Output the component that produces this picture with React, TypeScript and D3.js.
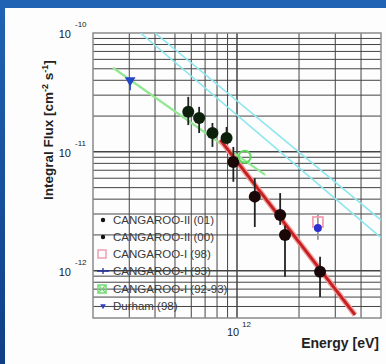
import React from "react";
import * as d3 from "d3";

// black points (CANGAROO-II)
const blackE = [5.8e11, 6.55e11, 7.6e11, 8.9e11, 9.6e11, 1.22e12, 1.62e12, 1.71e12, 2.53e12];
const blackF = [2.17e-11, 1.93e-11, 1.44e-11, 1.31e-11, 8.2e-12, 4.2e-12, 2.94e-12, 2.0e-12, 9.8e-13];
const blackLo = [1.68e-11, 1.44e-11, 1.1e-11, 1.19e-11, 5.6e-12, 2.33e-12, 2.43e-12, 8.9e-13, 6.0e-13];
const blackHi = [2.9e-11, 2.39e-11, 1.75e-11, 1.62e-11, 1.1e-11, 6.0e-12, 4.5e-12, 2.4e-12, 1.31e-12];

const pinkE = [2.47e12];
const pinkF = [2.57e-12];
const pinkLo = [1.82e-12];
const pinkHi = [3.06e-12];

const blueE = [2.47e12];
const blueF = [2.29e-12];

const greenE = [1.09e12];
const greenF = [9.1e-12];

const durhamE = [3.03e11];
const durhamF = [4.0e-11];

// power-law lines, endpoints [E, F]
const redLine = [[8.3e11, 1.26e-11], [3.74e12, 4.25e-13]];
const greenLine = [[2.5e11, 5.1e-11], [1.37e12, 6.4e-12]];
const cyanLineA = [[3.4e11, 1e-10], [5e12, 1.9e-12]];
const cyanLineB = [[4.0e11, 1e-10], [5e12, 2.67e-12]];

const legendLabels = [
  "CANGAROO-II (01)",
  "CANGAROO-II (00)",
  "CANGAROO-I (98)",
  "CANGAROO-I (93)",
  "CANGAROO-I (92-93)",
  "Durham (98)",
];

const W = 386, H = 364;
const left = 93, right = 381, top = 33, bottom = 318;

export default function App() {
  const x = d3.scaleLog().domain([2e11, 5e12]).range([left, right]);
  const y = d3.scaleLog().domain([4e-13, 1e-10]).range([bottom, top]);

  const xGrid: number[] = [];
  for (let p = 11; p <= 12; p++) for (let m = 1; m <= 9; m++) {
    const v = m * Math.pow(10, p);
    if (v > 2e11 && v < 5e12) xGrid.push(v);
  }
  const yGrid: number[] = [];
  for (let p = -13; p <= -11; p++) for (let m = 1; m <= 9; m++) {
    const v = m * Math.pow(10, p);
    if (v > 4e-13 && v < 1e-10) yGrid.push(v);
  }

  const line = d3.line<number[]>().x(d => x(d[0])).y(d => y(d[1]));
  const tri = d3.symbol().type(d3.symbolTriangle).size(50)();

  const legY = [220, 237, 254, 271, 289, 306];
  const font = "'Liberation Sans', Arial, sans-serif";

  return (
    <svg width={W} height={H} style={{ position: "absolute", left: 0, top: 0 }}>
      <defs>
        <linearGradient id="bg" x1="0" y1="0" x2="0" y2="1">
          <stop offset="0" stopColor="#2063b4" />
          <stop offset="1" stopColor="#0f3f86" />
        </linearGradient>
        <clipPath id="plot">
          <rect x={left} y={top} width={right - left} height={bottom - top} />
        </clipPath>
      </defs>
      <rect width={W} height={H} fill="url(#bg)" />
      <rect x={5} y={8} width={W - 5} height={H - 8} fill="#fdfdfd" />

      <g stroke="#444">
        {xGrid.map((v, i) => (
          <line key={"x" + i} x1={x(v)} x2={x(v)} y1={top} y2={bottom} strokeWidth={v === 1e12 ? 1.5 : 1} />
        ))}
        {yGrid.map((v, i) => (
          <line key={"y" + i} x1={left} x2={right} y1={y(v)} y2={y(v)} strokeWidth={v === 1e-11 || v === 1e-12 ? 1.5 : 1} />
        ))}
      </g>
      <rect x={left} y={top} width={right - left} height={bottom - top} fill="none" stroke="#8a8a8a" strokeWidth={1.5} />

      <g clipPath="url(#plot)" fill="none">
        <path d={line(cyanLineA) || ""} stroke="#8ee6ee" strokeWidth={1.6} />
        <path d={line(cyanLineB) || ""} stroke="#8ee6ee" strokeWidth={1.6} />
        <path d={line(greenLine) || ""} stroke="#90e890" strokeWidth={2.2} />
        <path d={line(redLine) || ""} stroke="#f29a9a" strokeWidth={5.5} />
        <path d={line(redLine) || ""} stroke="#c42020" strokeWidth={2.8} />
      </g>

      <g stroke="#222" strokeWidth={1.8}>
        {blackE.map((e, i) => (
          <line key={i} x1={x(e)} x2={x(e)} y1={y(blackLo[i])} y2={y(blackHi[i])} />
        ))}
        {pinkE.map((e, i) => (
          <line key={"p" + i} x1={x(e)} x2={x(e)} y1={y(pinkLo[i])} y2={y(pinkHi[i])} stroke="#999" />
        ))}
      </g>
      {blackE.map((e, i) => (
        <circle key={i} cx={x(e)} cy={y(blackF[i])} r={6} fill={i < 4 ? "#0c200c" : "#1a0808"} />
      ))}
      {pinkE.map((e, i) => (
        <rect key={i} x={x(e) - 5} y={y(pinkF[i]) - 5} width={10} height={10} fill="none" stroke="#f0a0b0" strokeWidth={1.8} />
      ))}
      {blueE.map((e, i) => (
        <circle key={i} cx={x(e)} cy={y(blueF[i])} r={4} fill="#3030d0" />
      ))}
      {greenE.map((e, i) => (
        <circle key={i} cx={x(e)} cy={y(greenF[i])} r={6} fill="none" stroke="#60d860" strokeWidth={2} />
      ))}
      {durhamE.map((e, i) => (
        <g key={i}>
          <line x1={x(e)} x2={x(e)} y1={y(durhamF[i])} y2={y(durhamF[i]) + 10} stroke="#3050c0" strokeWidth={1.5} />
          <path d={tri || ""} transform={`translate(${x(e)},${y(durhamF[i])}) rotate(180)`} fill="#2048c8" />
        </g>
      ))}

      <g fontFamily={font} fontSize={11.5} fill="#3a3a3a">
        {legendLabels.map((t, i) => (
          <text key={i} x={113} y={legY[i] + 4}>{t}</text>
        ))}
        <circle cx={103} cy={legY[0]} r={2.2} fill="#111" />
        <circle cx={103} cy={legY[1]} r={2.2} fill="#111" />
        <rect x={98} y={legY[2] - 4} width={8} height={8} fill="none" stroke="#f0a0b0" strokeWidth={1.5} />
        <path d={`M97,${legY[3]}h12M103,${legY[3] - 3}v6`} stroke="#2030a0" strokeWidth={1.3} />
        <rect x={98} y={legY[4] - 4} width={8} height={8} fill="none" stroke="#70d870" strokeWidth={1.5} />
        <path d={`M99,${legY[4] - 3}l6,6M105,${legY[4] - 3}l-6,6`} stroke="#70d870" strokeWidth={1.2} />
        <path d={d3.symbol().type(d3.symbolTriangle).size(14)() || ""} transform={`translate(103,${legY[5]}) rotate(180)`} fill="#3040c0" />
      </g>

      <g fontFamily={font} fill="#222">
        {[1e-10, 1e-11, 1e-12].map((v, i) => (
          <g key={i}>
            <text x={71} y={y(v) + 5} fontSize={11} textAnchor="end">10</text>
            <text x={75} y={y(v) - 6} fontSize={8}>{"-" + (10 + i)}</text>
          </g>
        ))}
        <text x={x(1e12) - 4} y={336} fontSize={11} textAnchor="middle">10</text>
        <text x={x(1e12) + 5} y={327} fontSize={8}>12</text>
        <text x={379} y={348} fontSize={14} fontWeight="bold" textAnchor="end">Energy [eV]</text>
        <text transform="translate(53,200) rotate(-90)" fontSize={13.5} fontWeight="bold">
          Integral Flux [cm<tspan dy={-5} fontSize={9}>-2</tspan><tspan dy={5}> s</tspan><tspan dy={-5} fontSize={9}>-1</tspan><tspan dy={5}>]</tspan>
        </text>
      </g>
    </svg>
  );
}
